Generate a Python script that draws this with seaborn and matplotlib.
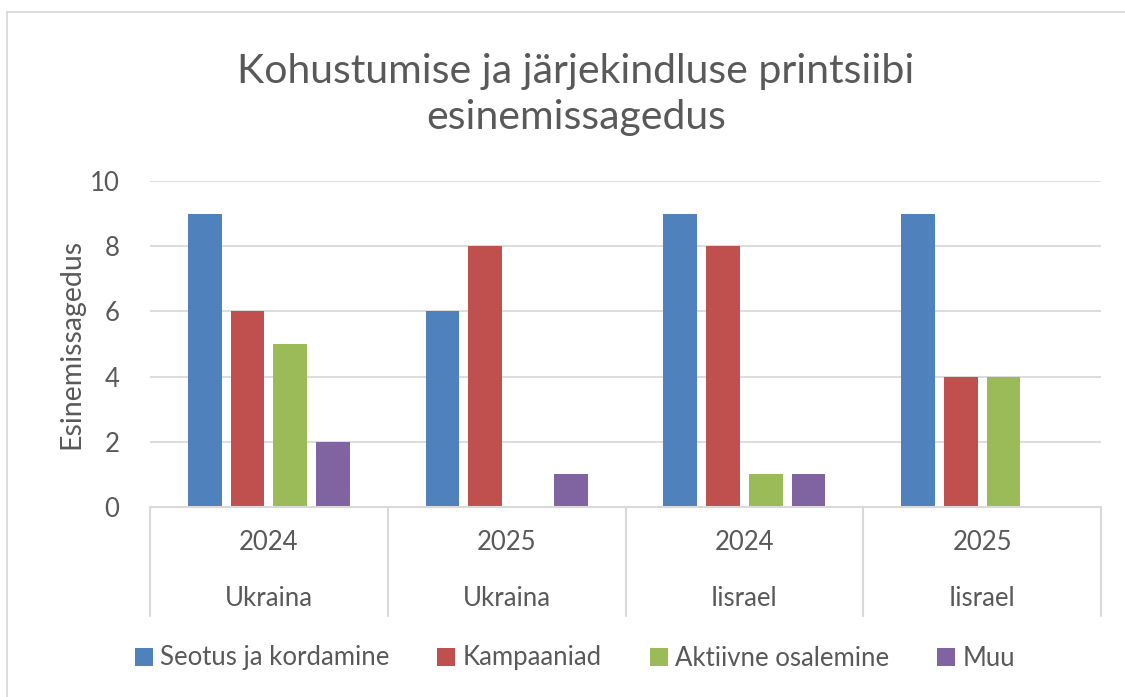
import matplotlib
matplotlib.use("Agg")
import matplotlib.pyplot as plt
import matplotlib.transforms as mtransforms
from matplotlib.patches import Patch
from matplotlib.lines import Line2D
import seaborn as sns
import pandas as pd

# ---- data ----
years = ["2024", "2025", "2024", "2025"]
countries = ["Ukraina", "Ukraina", "Iisrael", "Iisrael"]
series_names = ["Seotus ja kordamine", "Kampaaniad", "Aktiivne osalemine", "Muu"]
seotus = [9, 6, 9, 9]
kampaaniad = [6, 8, 8, 4]
aktiivne = [5, 0, 1, 4]
muu = [2, 1, 1, 0]
colors = ["#4F81BD", "#C0504D", "#9BBB59", "#8064A2"]
title = "Kohustumise ja järjekindluse printsiibi\nesinemissagedus"
ylabel = "Esinemissagedus"
yticks = [0, 2, 4, 6, 8, 10]

sns.set_style("white")
plt.rcParams["font.family"] = ["Lato", "DejaVu Sans"]
TXT = "#595959"
GRID = "#D9D9D9"
FS = 18.5

cats = [f"{y}|{c}|{i}" for i, (y, c) in enumerate(zip(years, countries))]
rows = []
for name, vals in zip(series_names, [seotus, kampaaniad, aktiivne, muu]):
    for cat, v in zip(cats, vals):
        rows.append({"cat": cat, "series": name, "value": v})
df = pd.DataFrame(rows)

fig = plt.figure(figsize=(11.25, 6.97), dpi=100)
ax = fig.add_axes([150 / 1125, 1 - 507 / 697, (1101 - 150) / 1125, (507 - 181) / 697])

sns.barplot(data=df, x="cat", y="value", hue="series", order=cats,
            hue_order=series_names, palette=colors, width=0.72, gap=0.21,
            saturation=1, ax=ax, legend=False, errorbar=None, linewidth=0)

ax.set_ylim(0, 10)
ax.set_xlim(-0.5, len(cats) - 0.5)
ax.set_yticks(yticks)
ax.set_yticklabels([str(t) for t in yticks], fontsize=FS, color=TXT)
ax.tick_params(axis="y", length=0, pad=22)
ax.set_xticks([])
ax.set_xlabel("")
ax.set_ylabel(ylabel, fontsize=20.5, color=TXT, labelpad=4)
for t in yticks[1:]:
    ax.axhline(t, color=GRID, lw=1.3, zorder=0)
for s in ["top", "right", "left"]:
    ax.spines[s].set_visible(False)
ax.spines["bottom"].set_color(GRID)
ax.spines["bottom"].set_linewidth(1.5)

# multi-level category axis
trans = mtransforms.blended_transform_factory(ax.transData, ax.transAxes)
axis_h = (507 - 181)
sep_bottom = -(616 - 507) / axis_h
for i in range(len(cats) + 1):
    ax.add_line(Line2D([i - 0.5, i - 0.5], [0, sep_bottom], transform=trans,
                       color=GRID, lw=1.5, clip_on=False))
for i, (y, c) in enumerate(zip(years, countries)):
    ax.text(i, -(543 - 507) / axis_h, y, transform=trans, ha="center",
            va="center", fontsize=FS, color=TXT)
    ax.text(i, -(598 - 507) / axis_h, c, transform=trans, ha="center",
            va="center", fontsize=FS, color=TXT)

# title
fig.text(576 / 1125, 1 - 95 / 697, title, ha="center", va="center",
         fontsize=29.5, color=TXT, linespacing=1.3)

# legend
handles = [Patch(facecolor=c, edgecolor="none", label=n)
           for c, n in zip(colors, series_names)]
fig.legend(handles=handles, loc="center", bbox_to_anchor=(575 / 1125, 1 - 658 / 697),
           ncol=4, frameon=False, fontsize=FS, handlelength=0.7, handleheight=0.7,
           handletextpad=0.3, columnspacing=1.85, labelcolor=TXT)

# outer border (top and left edges)
fig.add_artist(Line2D([7 / 1125, 1], [1 - 12 / 697, 1 - 12 / 697],
                      transform=fig.transFigure, color=GRID, lw=1.3))
fig.add_artist(Line2D([7 / 1125, 7 / 1125], [0, 1 - 12 / 697],
                      transform=fig.transFigure, color=GRID, lw=1.3))

fig.savefig("out.png", dpi=100, facecolor="white")
